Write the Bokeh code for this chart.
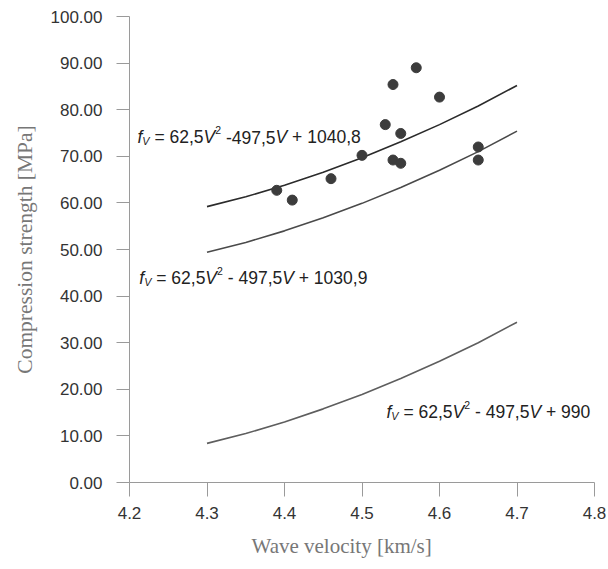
from bokeh.plotting import figure
from bokeh.models import Range1d, FixedTicker, NumeralTickFormatter, PrintfTickFormatter, Title
from bokeh.core.properties import value
from bokeh.embed import file_html
from bokeh.resources import INLINE

# ---- data ----
point_v = [4.39, 4.41, 4.46, 4.50, 4.53, 4.54, 4.55, 4.54, 4.55, 4.57, 4.60, 4.65, 4.65]
point_f = [62.7, 60.6, 65.2, 70.2, 76.8, 85.4, 74.9, 69.2, 68.5, 89.0, 82.7, 72.0, 69.2]

curve_v = [4.30, 4.35, 4.40, 4.45, 4.50, 4.55, 4.60, 4.65, 4.70]
curve_top = [59.2, 61.3, 63.8, 66.6, 69.7, 73.1, 76.8, 80.8, 85.2]
curve_mid = [49.4, 51.5, 54.0, 56.8, 59.9, 63.3, 67.0, 71.0, 75.4]
curve_low = [8.4, 10.5, 13.0, 15.8, 18.9, 22.3, 26.0, 30.0, 34.4]

y_ticks = [0, 10, 20, 30, 40, 50, 60, 70, 80, 90, 100]
x_ticks = [4.2, 4.3, 4.4, 4.5, 4.6, 4.7, 4.8]

eq_consts = ["1040,8", "1030,9", "990"]
eq_dashes = ["-497,5", "- 497,5", "- 497,5"]

x_title = "Wave velocity [km/s]"
y_title = "Compression strength [MPa]"

# ---- figure ----
p = figure(width=606, height=568, output_backend="svg", toolbar_location=None,
           x_range=Range1d(4.2, 4.8), y_range=Range1d(0, 100),
           min_border_left=127, min_border_right=12, min_border_top=16, min_border_bottom=85)
p.background_fill_color = "white"
p.border_fill_color = "white"
p.outline_line_color = None
p.xgrid.visible = False
p.ygrid.visible = False

AX = "#9a9a9a"
for ax in (p.xaxis[0], p.yaxis[0]):
    ax.axis_line_color = AX
    ax.axis_line_width = 1
    ax.major_tick_line_color = AX
    ax.minor_tick_line_color = None
    ax.major_tick_in = 0
    ax.major_label_text_font = "Liberation Sans"
    ax.major_label_text_font_size = "17px"
    ax.major_label_text_color = "#333333"

p.xaxis[0].ticker = FixedTicker(ticks=x_ticks)
p.xaxis[0].formatter = PrintfTickFormatter(format="%.1f")
p.xaxis[0].major_tick_out = 14
p.xaxis[0].major_label_standoff = 10

p.yaxis[0].ticker = FixedTicker(ticks=y_ticks)
p.yaxis[0].formatter = NumeralTickFormatter(format="0.00")
p.yaxis[0].major_tick_out = 13
p.yaxis[0].major_label_standoff = 14

# curves
p.line(curve_v, curve_top, line_color="#2b2b2b", line_width=1.6)
p.line(curve_v, curve_mid, line_color="#4a4a4a", line_width=1.6)
p.line(curve_v, curve_low, line_color="#5e5e5e", line_width=1.6)

# points
p.scatter(point_v, point_f, marker="circle", size=10, color="#3c3c3c")

# ---- equation labels built from styled pieces ----
W = {"0": .556, "1": .556, "2": .556, "3": .556, "4": .556, "5": .556, "6": .556,
     "7": .556, "8": .556, "9": .556, ",": .278, ".": .278, " ": .278, "-": .333,
     "+": .584, "=": .584, "V": .667, "f": .278}

def tw(s, size):
    return sum(W.get(c, .556) for c in s) * size

FS = 17.5
TXT = "#222222"

def equation(x0, y0, const, dash):
    segs = [("f", "italic", 1.0, 0), ("V", "italic", 0.62, 4), (" ", None, 1.0, 0),
            ("= 62,5", "normal", 1.0, 0), ("V", "italic", 1.0, 0), ("2", "normal", 0.6, -7),
            (" ", None, 1.0, 0), (dash, "normal", 1.0, 0), ("V", "italic", 1.0, 0),
            (" ", None, 1.0, 0), ("+ " + const, "normal", 1.0, 0)]
    off = 0.0
    for text, style, scale, dy in segs:
        size = FS * scale
        if style is not None:
            p.text(x=[x0], y=[y0], text=[text], x_offset=off, y_offset=dy,
                   text_font=value("Liberation Sans"), text_font_style=style,
                   text_font_size=f"{size:.1f}px", text_color=TXT,
                   text_align="left", text_baseline="alphabetic")
        off += tw(text, size)

equation(4.2103, 74.1, eq_consts[0], eq_dashes[0])
equation(4.2126, 43.9, eq_consts[1], eq_dashes[1])
equation(4.5316, 15.2, eq_consts[2], eq_dashes[2])

# ---- axis titles ----
p.add_layout(Title(text=x_title, align="left", offset=122, standoff=21,
                   text_font="Liberation Serif", text_font_size="21px",
                   text_font_style="normal", text_color="#777777"), "below")
p.add_layout(Title(text=y_title, align="center", offset=7, standoff=21,
                   text_font="Liberation Serif", text_font_size="21.5px",
                   text_font_style="normal", text_color="#777777"), "left")

open("out.html", "w").write(file_html(p, INLINE))
